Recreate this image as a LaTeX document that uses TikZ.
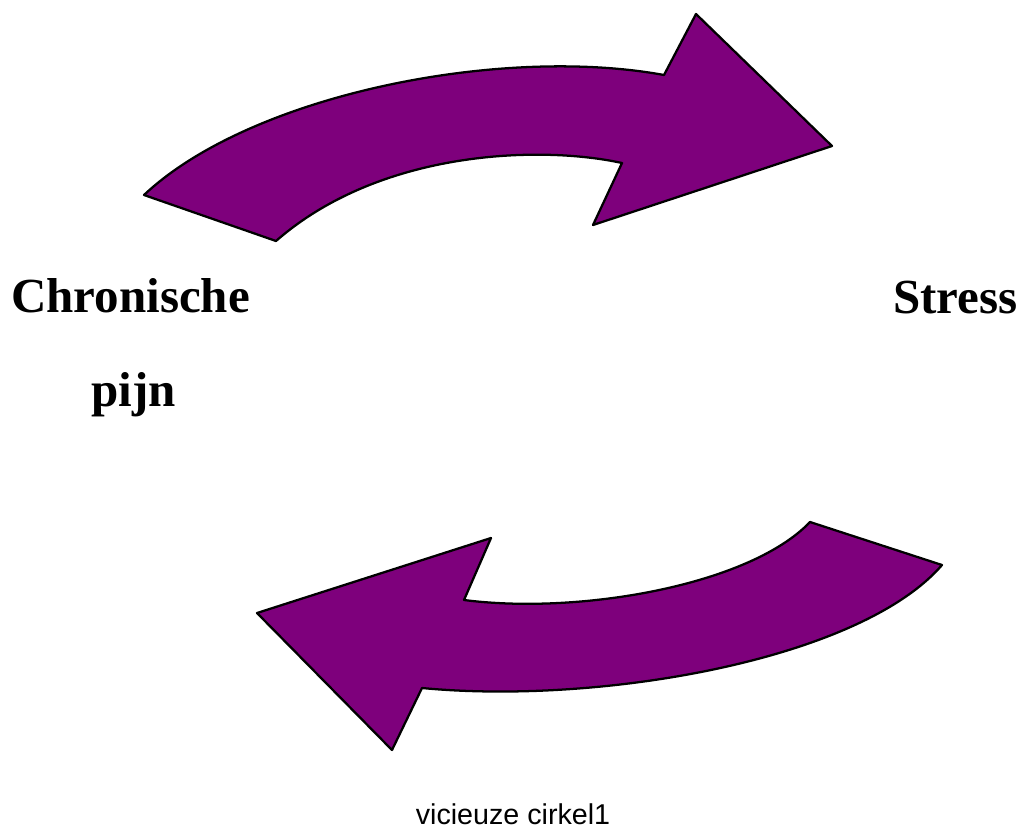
\documentclass[tikz,border=0pt]{standalone}
\usepackage{fontspec}
\setmainfont{Liberation Serif}
\newfontfamily\capfont{Liberation Sans}
\definecolor{arrowpurple}{RGB}{126,0,124}
\begin{document}
\begin{tikzpicture}[x=0.75pt,y=-0.75pt,
  bigarrow/.style={fill=arrowpurple,draw=black,line width=1.7pt,line join=round},
  label/.style={inner sep=0pt,anchor=base west,font=\fontsize{36.75pt}{40pt}\selectfont\bfseries},
  caption/.style={inner sep=0pt,anchor=base,font=\capfont\fontsize{21.5pt}{24pt}\selectfont}]
\useasboundingbox[fill=white] (0,0) rectangle (1024,839);
% top arrow (pointing right)
\draw[bigarrow] (144,195) .. controls (250,95) and (500,45) .. (664,75)
  -- (696,14) -- (832,146) -- (593,225) -- (622,163)
  .. controls (540,145) and (380,150) .. (276,241) -- cycle;
% bottom arrow (pointing left)
\draw[bigarrow] (810,522) .. controls (750,585) and (580,615) .. (464,600)
  -- (491,538) -- (257,613) -- (392,750) -- (422,688)
  .. controls (600,705) and (860,660) .. (942,565) -- cycle;
\node[label] (chron) at (11,312) {Chronische};
\node[label] (pijn) at (91,406) {pijn};
\node[label] (stress) at (893,313) {Stress};
\node[caption] (cap) at (513,824) {vicieuze cirkel1};
\end{tikzpicture}
\end{document}
